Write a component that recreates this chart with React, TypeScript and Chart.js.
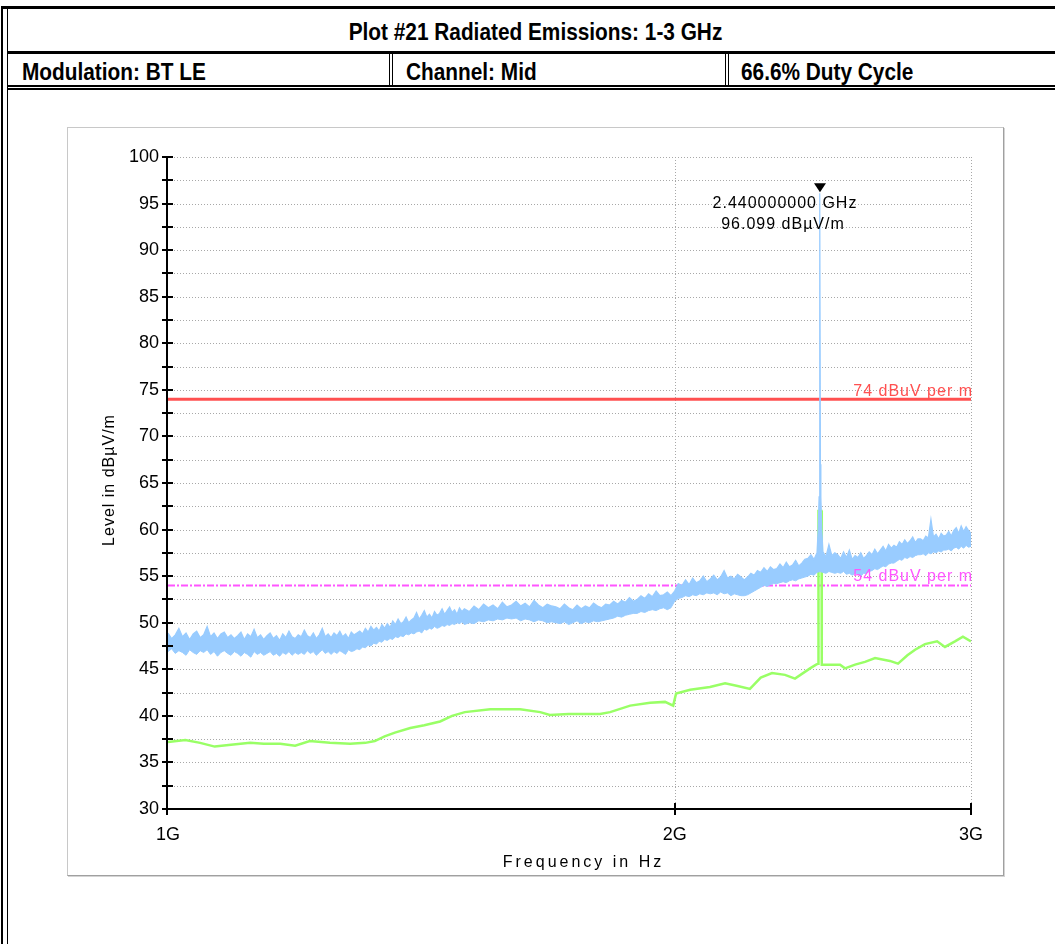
import React, { useEffect, useRef } from 'react';
import { Chart, registerables } from 'chart.js';

Chart.register(...registerables);

// ---- Data ----
// Fine sweep part: 1000..1495 MHz, 5 MHz steps
const fineStartMHz = 1000;
const fineStepMHz = 5;
// Coarse sweep part: 1500..3000 MHz, 10 MHz steps
const coarseStartMHz = 1500;
const coarseStepMHz = 10;

// Peak detector trace: upper / lower edge of the noisy band
const blueHiFine = [
  48.9, 48.3, 48.7, 49.4, 48.5, 48.9, 48.2, 48.8, 49.1, 48.4,
  48.7, 49.6, 48.5, 48.9, 48.3, 48.8, 49.0, 48.4, 48.7, 48.3,
  48.6, 49.0, 48.2, 48.8, 48.5, 49.3, 48.4, 48.7, 48.2, 48.6,
  48.9, 48.3, 48.6, 48.1, 48.8, 48.4, 49.1, 48.5, 48.3, 48.7,
  48.5, 49.2, 48.6, 48.4, 48.9, 48.3, 48.7, 49.4, 48.5, 48.8,
  48.4, 48.9, 48.6, 49.1, 48.5, 48.8, 48.3, 49.0, 48.7, 48.9,
  49.1, 48.8, 49.4, 49.0, 49.6, 49.2, 49.5, 49.1, 49.8, 49.4,
  49.9, 49.5, 50.2, 49.8, 50.4, 49.9, 50.1, 50.6, 50.0, 50.3,
  50.5, 51.1, 50.4, 50.8, 51.3, 50.6, 50.9, 50.5, 51.2, 50.8,
  51.0, 51.5, 50.9, 51.3, 51.7, 51.1, 51.4, 50.9, 51.6, 51.2,
];
const blueLoFine = [
  46.9, 47.2, 46.7, 47.0, 46.8, 46.5, 47.1, 46.8, 46.6, 47.0,
  46.8, 47.1, 46.6, 46.9, 46.4, 46.8, 47.0, 46.7, 46.5, 46.9,
  46.7, 46.4, 46.8, 46.6, 46.3, 46.9, 46.6, 46.8, 46.5, 46.7,
  46.9, 46.5, 46.7, 46.4, 46.8, 46.6, 46.9, 46.5, 46.8, 46.6,
  46.8, 46.6, 47.0, 46.7, 46.9, 46.5, 46.8, 47.1, 46.7, 46.9,
  46.6, 46.9, 46.7, 47.0, 46.8, 46.6, 47.1, 46.9, 47.0, 47.2,
  47.1, 47.4, 47.3, 47.6, 47.5, 47.8, 47.7, 48.0, 47.9, 48.2,
  48.1, 48.3, 48.2, 48.5, 48.4, 48.6, 48.5, 48.8, 48.7, 48.9,
  48.8, 49.0, 49.1, 48.9, 49.3, 49.2, 49.4, 49.3, 49.6, 49.4,
  49.5, 49.7, 49.6, 49.8, 49.7, 49.9, 49.8, 50.0, 49.9, 50.1,
];
const blueHiCoarse = [
  51.5, 51.2, 51.8, 51.4, 52.0, 51.6, 51.9, 51.5, 52.2, 51.7,
  51.9, 52.3, 51.8, 52.1, 51.7, 52.4, 51.9, 51.6, 52.0, 51.8,
  51.7, 51.5, 52.0, 51.6, 51.4, 51.9, 51.5, 51.8, 51.6, 52.1,
  51.8, 51.6, 52.0, 51.9, 52.3, 52.0, 52.4, 52.2, 52.7, 52.3,
  52.5, 52.9, 52.6, 53.1, 52.8, 53.4, 52.9, 53.0, 53.3, 52.9,
  53.4, 54.2, 54.0, 54.6, 54.1, 54.8, 54.3, 54.5, 55.0, 54.4,
  54.7, 55.1, 54.6, 54.9, 55.6, 54.8, 55.0, 54.7, 55.2, 54.9,
  54.6, 54.9, 55.3, 55.1, 55.6, 55.4, 55.9, 55.5, 56.0, 55.7,
  55.8, 56.3, 55.9, 56.5, 56.0, 56.2, 56.7, 56.1, 56.4, 56.8,
  56.9, 57.3, 56.8, 57.5, 96.1, 57.6, 57.1, 58.4, 57.2, 57.5,
  57.3, 56.9, 57.6, 57.0, 57.8, 56.8, 57.2, 57.0, 57.5, 56.9,
  57.2, 57.6, 57.3, 57.9, 57.4, 57.8, 58.2, 57.7, 58.4, 58.0,
  58.3, 58.1, 58.7, 58.4, 58.9, 58.5, 58.8, 59.2, 58.6, 59.0,
  59.0, 58.8, 59.3, 59.1, 61.1, 59.2, 59.5, 59.0, 59.6, 59.3,
  59.4, 59.8, 59.3, 59.9, 60.2, 59.6, 60.4, 59.8, 60.3, 59.9, 59.6,
];
const blueLoCoarse = [
  49.8, 50.0, 49.9, 50.2, 50.1, 50.3, 50.2, 50.4, 50.3, 50.5,
  50.4, 50.5, 50.2, 50.4, 50.3, 50.1, 50.3, 50.2, 50.0, 50.1,
  50.0, 49.9, 50.1, 49.8, 50.0, 50.2, 49.9, 50.1, 50.0, 50.2,
  50.1, 50.2, 50.3, 50.4, 50.5, 50.7, 50.6, 50.8, 50.9, 51.0,
  51.0, 51.2, 51.1, 51.3, 51.4, 51.3, 51.5, 51.6, 51.4, 51.6,
  52.3, 52.6, 52.7, 52.9, 52.8, 53.0, 52.9, 53.1, 53.0, 53.2,
  53.1, 53.2, 53.0, 53.3, 53.1, 53.2, 52.9, 53.1, 53.0, 52.9,
  52.9, 53.0, 53.2, 53.4, 53.6, 53.8, 54.0, 53.9, 54.1, 54.2,
  54.2, 54.3, 54.4, 54.3, 54.5, 54.6, 54.5, 54.7, 54.8, 54.9,
  55.0, 55.2, 55.1, 55.4, 55.5, 55.4, 55.3, 55.5, 55.4, 55.3,
  55.4, 55.3, 55.5, 55.2, 55.3, 55.1, 55.3, 55.2, 55.0, 55.3,
  55.3, 55.5, 55.6, 55.8, 55.7, 55.9, 56.1, 56.0, 56.3, 56.4,
  56.4, 56.6, 56.8, 56.7, 57.0, 56.9, 57.1, 57.0, 57.2, 57.3,
  57.3, 57.4, 57.2, 57.5, 57.4, 57.6, 57.5, 57.7, 57.6, 57.8,
  57.8, 57.9, 57.7, 58.0, 58.1, 57.9, 58.2, 58.0, 58.3, 58.1, 58.2,
];

// Extra points on the flanks of the carrier spike
const spikeFreqMHz = [2434, 2437, 2438.5, 2441.5, 2443, 2446];
const spikeLevel = [60.0, 63.5, 67.0, 67.0, 63.5, 60.0];

// Average detector trace
const greenFreqMHz = [
  1000, 1024, 1045, 1066, 1090, 1119, 1140, 1166, 1190, 1214,
  1248, 1283, 1310, 1327, 1345, 1364, 1393, 1420, 1451, 1475,
  1501, 1554, 1619, 1664, 1686, 1730, 1806, 1831, 1882, 1934,
  1974, 1996, 2004, 2043, 2099, 2143, 2180, 2217, 2250, 2285,
  2326, 2358, 2407, 2427, 2434, 2435, 2445, 2446, 2454, 2508,
  2525, 2560, 2595, 2631, 2685, 2715, 2750, 2779, 2817, 2864,
  2895, 2935, 2967, 3000,
];
const greenLevel = [
  37.2, 37.4, 37.1, 36.7, 36.9, 37.1, 37.0, 37.0, 36.8, 37.3,
  37.1, 37.0, 37.1, 37.3, 37.8, 38.2, 38.7, 39.0, 39.4, 40.0,
  40.4, 40.7, 40.7, 40.4, 40.1, 40.2, 40.2, 40.4, 41.1, 41.4,
  41.5, 41.1, 42.4, 42.8, 43.1, 43.5, 43.2, 42.9, 44.1, 44.6,
  44.4, 44.0, 45.1, 45.5, 45.6, 62.0, 62.0, 45.5, 45.5, 45.5,
  45.1, 45.5, 45.8, 46.2, 45.9, 45.6, 46.5, 47.1, 47.7, 48.0,
  47.4, 48.0, 48.5, 48.0,
];

const limitPeak = 74;
const limitAvg = 54;
const limitLabels = ['74 dBuV per m', '54 dBuV per m'];

const markerFreqMHz = 2440;
const markerLevel = 96.099;
const markerText = ['2.440000000 GHz', '96.099 dBµV/m'];

const xTickValues = [1000, 2000, 3000];
const xTickLabels = ['1G', '2G', '3G'];
const yMin = 30;
const yMax = 100;
const yStep = 2.5;

const xTitle = 'Frequency in Hz';
const yTitle = 'Level in dBµV/m';

const titleText = 'Plot #21 Radiated Emissions: 1-3 GHz';
const rowTexts = ['Modulation: BT LE', 'Channel: Mid', '66.6% Duty Cycle'];

// ---- Styles ----
const BLUE = '#99ccff';
const GREEN = '#99ff66';
const RED = '#ff5050';
const MAGENTA = '#ff55ff';
const CHART_FONT = '"Liberation Sans", Arial, Helvetica, sans-serif';
const HEADER_FONT = '"Liberation Sans", Arial, sans-serif';

const framePlugin = {
  id: 'frame',
  beforeDatasetsDraw(chart: any) {
    const { ctx, chartArea, scales } = chart;
    const { left, right, top, bottom } = chartArea;
    const xs = scales.x;
    const ys = scales.y;
    ctx.save();
    ctx.strokeStyle = '#a8a8a8';
    ctx.lineWidth = 1;
    ctx.setLineDash([1, 2]);
    ys.ticks.forEach((t: any) => {
      if (t.value === yMin) return;
      const py = Math.round(ys.getPixelForValue(t.value)) + 0.5;
      ctx.beginPath();
      ctx.moveTo(left, py);
      ctx.lineTo(right, py);
      ctx.stroke();
    });
    xs.ticks.forEach((t: any) => {
      if (t.value === xTickValues[0]) return;
      const px = Math.round(xs.getPixelForValue(t.value)) + 0.5;
      ctx.beginPath();
      ctx.moveTo(px, top);
      ctx.lineTo(px, bottom);
      ctx.stroke();
    });
    ctx.restore();
  },
  afterDatasetsDraw(chart: any) {
    const { ctx, chartArea, scales } = chart;
    const { left, right, top, bottom } = chartArea;
    const xs = scales.x;
    const ys = scales.y;
    ctx.save();
    ctx.setLineDash([]);
    ctx.strokeStyle = '#000';
    ctx.lineWidth = 2;
    // axes
    ctx.beginPath();
    ctx.moveTo(left - 1, top);
    ctx.lineTo(left - 1, bottom);
    ctx.moveTo(left - 1, bottom);
    ctx.lineTo(right, bottom);
    ctx.stroke();
    // y ticks
    ys.ticks.forEach((t: any) => {
      const py = Math.round(ys.getPixelForValue(t.value));
      ctx.beginPath();
      ctx.moveTo(left - 6, py);
      ctx.lineTo(left + 5, py);
      ctx.stroke();
    });
    xs.ticks.forEach((t: any) => {
      const first = t.value === xTickValues[0];
      const px = Math.round(xs.getPixelForValue(t.value)) - (first ? 1 : 0);
      ctx.beginPath();
      ctx.moveTo(px, bottom - 6);
      ctx.lineTo(px, bottom + 6);
      ctx.stroke();
    });

    // limit labels
    ctx.font = `16px ${CHART_FONT}`;
    (ctx as any).letterSpacing = '1px';
    ctx.textAlign = 'right';
    ctx.textBaseline = 'alphabetic';
    ctx.fillStyle = RED;
    ctx.fillText(limitLabels[0], right + 2, ys.getPixelForValue(limitPeak) - 3);
    ctx.fillStyle = MAGENTA;
    ctx.fillText(limitLabels[1], right + 2, ys.getPixelForValue(limitAvg) - 4);

    // marker
    const mx = xs.getPixelForValue(markerFreqMHz);
    const my = ys.getPixelForValue(markerLevel);
    ctx.fillStyle = '#000';
    ctx.beginPath();
    ctx.moveTo(mx, my - 1);
    ctx.lineTo(mx - 6, my - 10);
    ctx.lineTo(mx + 6, my - 10);
    ctx.closePath();
    ctx.fill();
    ctx.textAlign = 'center';
    ctx.fillText(markerText[0], mx - 35, my + 15);
    ctx.fillText(markerText[1], mx - 37, my + 36);

    // axis titles
    ctx.save();
    ctx.translate(42, (top + bottom) / 2 - 3);
    ctx.rotate(-Math.PI / 2);
    ctx.textAlign = 'center';
    ctx.textBaseline = 'middle';
    ctx.fillText(yTitle, 0, 0);
    ctx.restore();

    (ctx as any).letterSpacing = '3px';
    ctx.textAlign = 'center';
    ctx.textBaseline = 'alphabetic';
    ctx.fillText(xTitle, (left + right) / 2 + 14, bottom + 58);
    ctx.restore();
  },
};

const bar = (left: number, top: number, width: number, height: number): React.CSSProperties => ({
  position: 'absolute',
  left,
  top,
  width,
  height,
  background: '#000',
});

export default function App() {
  const canvasRef = useRef<HTMLCanvasElement>(null);

  useEffect(() => {
    const canvas = canvasRef.current;
    if (!canvas) return;

    const hiPts = [
      ...blueHiFine.map((v, i) => ({ x: fineStartMHz + i * fineStepMHz, y: v })),
      ...blueHiCoarse.map((v, i) => ({ x: coarseStartMHz + i * coarseStepMHz, y: v })),
    ];
    spikeFreqMHz.forEach((f, i) => hiPts.push({ x: f, y: spikeLevel[i] }));
    hiPts.sort((a, b) => a.x - b.x);
    const loPts = [
      ...blueLoFine.map((v, i) => ({ x: fineStartMHz + i * fineStepMHz, y: v })),
      ...blueLoCoarse.map((v, i) => ({ x: coarseStartMHz + i * coarseStepMHz, y: v })),
    ];
    const greenPts = greenFreqMHz.map((f, i) => ({ x: f, y: greenLevel[i] }));
    const xEnds = [xTickValues[0], xTickValues[xTickValues.length - 1]];

    const chart = new Chart(canvas, {
      type: 'line',
      data: {
        datasets: [
          {
            label: 'Peak',
            data: hiPts,
            borderColor: BLUE,
            backgroundColor: BLUE,
            borderWidth: 1.2,
            pointRadius: 0,
            fill: '+1',
            tension: 0,
          },
          {
            label: 'Peak low',
            data: loPts,
            borderColor: BLUE,
            borderWidth: 1,
            pointRadius: 0,
            fill: false,
            tension: 0,
          },
          {
            label: 'Average',
            data: greenPts,
            borderColor: GREEN,
            borderWidth: 2.5,
            pointRadius: 0,
            fill: false,
            tension: 0,
          },
          {
            label: 'Limit 74',
            data: xEnds.map((x) => ({ x, y: limitPeak })),
            borderColor: RED,
            borderWidth: 3,
            pointRadius: 0,
            fill: false,
          },
          {
            label: 'Limit 54',
            data: xEnds.map((x) => ({ x, y: limitAvg })),
            borderColor: MAGENTA,
            borderWidth: 2,
            borderDash: [7, 2, 2, 2],
            pointRadius: 0,
            fill: false,
          },
        ],
      },
      options: {
        animation: false,
        responsive: false,
        maintainAspectRatio: false,
        layout: { padding: { left: 0, right: 32, top: 29, bottom: 0 } },
        plugins: { legend: { display: false }, tooltip: { enabled: false } },
        scales: {
          x: {
            type: 'logarithmic',
            min: xTickValues[0],
            max: xTickValues[xTickValues.length - 1],
            grid: { display: false, drawTicks: false },
            border: { display: false },
            afterBuildTicks: (s: any) => {
              s.ticks = xTickValues.map((v) => ({ value: v }));
            },
            afterFit: (s: any) => {
              s.height = 66;
            },
            ticks: {
              autoSkip: false,
              maxRotation: 0,
              padding: 15,
              color: '#000',
              font: { family: CHART_FONT, size: 18 },
              callback: (v: any) => {
                const i = xTickValues.indexOf(Number(v));
                return i >= 0 ? xTickLabels[i] : '';
              },
            },
          },
          y: {
            type: 'linear',
            min: yMin,
            max: yMax,
            grid: { display: false, drawTicks: false },
            border: { display: false },
            afterFit: (s: any) => {
              s.width = 100;
            },
            ticks: {
              stepSize: yStep,
              autoSkip: false,
              padding: 9,
              color: '#000',
              font: { family: CHART_FONT, size: 18 },
              callback: (v: any) => (Number(v) % 5 === 0 ? String(v) : ''),
            },
          },
        },
      } as any,
      plugins: [framePlugin],
    });

    return () => chart.destroy();
  }, []);

  const textBase: React.CSSProperties = {
    position: 'absolute',
    fontFamily: HEADER_FONT,
    fontWeight: 'bold',
    fontSize: 23,
    lineHeight: '24px',
    whiteSpace: 'nowrap',
    color: '#000',
    transform: 'scaleX(0.905)',
    transformOrigin: 'left center',
  };

  return (
    <div
      style={{
        position: 'absolute',
        left: 0,
        top: 0,
        width: 1055,
        height: 944,
        background: '#fff',
        overflow: 'hidden',
      }}
    >
      <div style={bar(1, 6, 2, 938)} />
      <div style={bar(7, 6, 1, 938)} />
      <div style={bar(1, 6, 1054, 3)} />
      <div style={bar(7, 51, 1048, 3)} />
      <div style={bar(7, 85, 1048, 2)} />
      <div style={bar(7, 88, 1048, 2)} />
      <div style={bar(389, 54, 1, 31)} />
      <div style={bar(392, 54, 1, 31)} />
      <div style={bar(725, 54, 1, 31)} />
      <div style={bar(728, 54, 1, 31)} />

      <div style={{ ...textBase, left: 0, top: 20, width: 1071, textAlign: 'center', transformOrigin: 'center center' }}>
        {titleText}
      </div>
      <div style={{ ...textBase, left: 22, top: 60 }}>{rowTexts[0]}</div>
      <div style={{ ...textBase, left: 406, top: 60 }}>{rowTexts[1]}</div>
      <div style={{ ...textBase, left: 741, top: 60 }}>{rowTexts[2]}</div>

      <div
        style={{
          position: 'absolute',
          left: 67,
          top: 127,
          width: 935,
          height: 747,
          borderTop: '1px solid #c8c8c8',
          borderLeft: '1px solid #c8c8c8',
          borderRight: '1px solid #a0a0a0',
          borderBottom: '1px solid #a0a0a0',
          boxShadow: '1px 1px 0 #d4d4d4',
          background: '#fff',
        }}
      >
        <canvas ref={canvasRef} width={935} height={747} style={{ display: 'block', width: 935, height: 747 }} />
      </div>
    </div>
  );
}
